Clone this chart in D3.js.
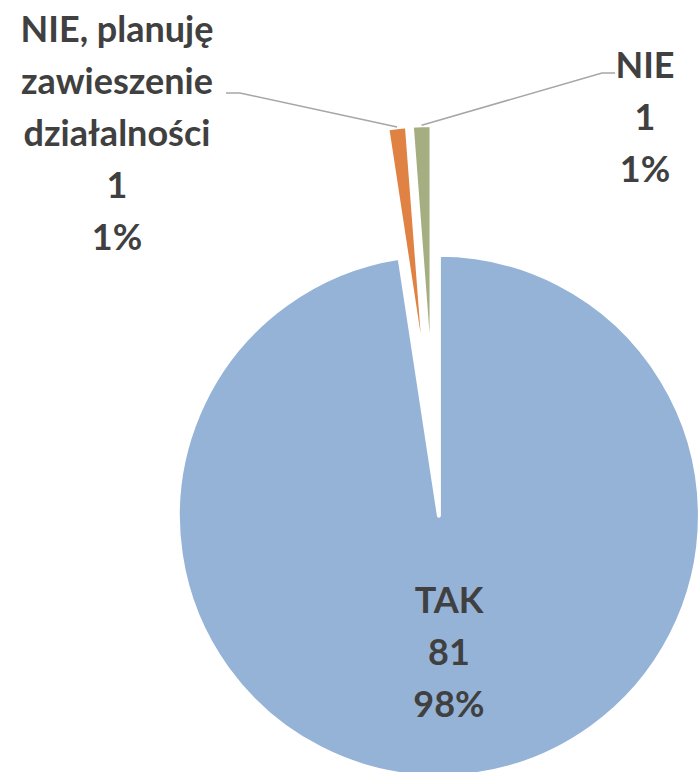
<!DOCTYPE html>
<html>
<head>
<meta charset="utf-8">
<script src="https://cdn.jsdelivr.net/npm/d3@7"></script>
<style>
  html, body { margin: 0; padding: 0; background: #ffffff; }
  svg { display: block; }
</style>
</head>
<body>
<svg id="chart" width="698" height="772"></svg>
<script>
// ---- data ----
const categories = ["TAK", "NIE, planuję zawieszenie działalności", "NIE"];
const values = [81, 1, 1];
const percentLabels = ["98%", "1%", "1%"];
const labelLines = [["TAK"], ["NIE, planuję", "zawieszenie", "działalności"], ["NIE"]];
const colors = ["#95B3D7", "#DF8244", "#A5AE80"];

// ---- layout ----
const svg = d3.select("#chart");
const cx = 434, cy = 451;
const radius = 261;
const explode = 65;
const fontSize = 36, lineH = 52;

const pie = d3.pie().sort(null).value(d => d.value);
const arcs = pie(categories.map((c, i) => ({ cat: c, value: values[i], pct: percentLabels[i], lines: labelLines[i], color: colors[i] })));
const arc = d3.arc().innerRadius(0).outerRadius(radius);

function offset(d, dist) {
  const a = (d.startAngle + d.endAngle) / 2;
  return [Math.sin(a) * dist, -Math.cos(a) * dist];
}

const g = svg.append("g").attr("transform", `translate(${cx},${cy})`);

g.selectAll("path.slice")
  .data(arcs)
  .join("path")
  .attr("class", "slice")
  .attr("d", arc)
  .attr("transform", d => { const o = offset(d, explode); return `translate(${o[0]},${o[1]})`; })
  .attr("fill", d => d.data.color)
  .attr("stroke", "#ffffff")
  .attr("stroke-width", 4)
  .attr("stroke-linejoin", "round");

// leader lines for the small slices (attached to slice arc midpoints)
const leaderEnds = {
  1: [[240 - cx, 93 - cy], [226 - cx, 93 - cy]],
  2: [[602 - cx, 73 - cy], [615 - cx, 73 - cy]]
};
arcs.forEach((d, i) => {
  if (!leaderEnds[i]) return;
  const p = offset(d, explode + radius);
  const pts = [p].concat(leaderEnds[i]);
  g.append("path")
    .attr("d", d3.line()(pts))
    .attr("fill", "none")
    .attr("stroke", "#A6A6A6")
    .attr("stroke-width", 1.5);
});

// labels
const labelPos = [[449, 613], [117, 42], [645, 78]]; // baseline of first line
arcs.forEach((d, i) => {
  const lines = d.data.lines.concat([String(d.data.value), d.data.pct]);
  const t = svg.append("text")
    .attr("text-anchor", "middle")
    .attr("font-family", "Lato, 'Open Sans', sans-serif")
    .attr("font-weight", "bold")
    .attr("font-size", fontSize)
    .attr("fill", "#404040");
  lines.forEach((ln, k) => {
    t.append("tspan")
      .attr("x", labelPos[i][0])
      .attr("y", labelPos[i][1] + k * lineH)
      .text(ln);
  });
});
</script>
</body>
</html>
